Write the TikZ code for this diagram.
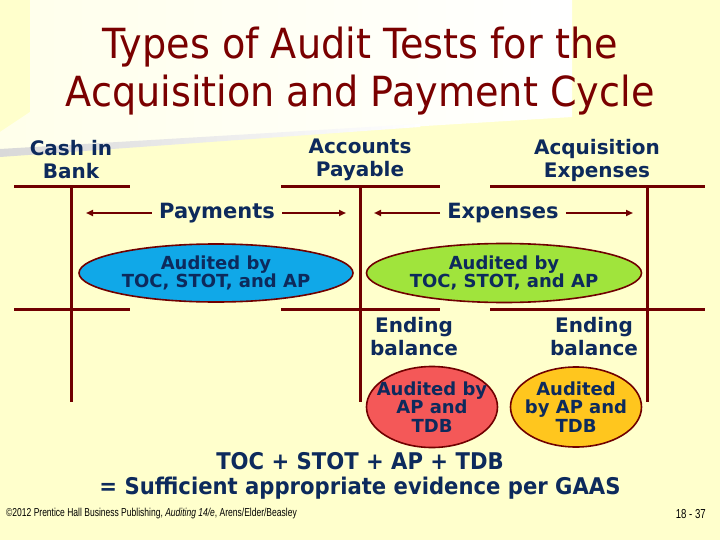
\documentclass[tikz,border=0pt]{standalone}
\usepackage{fontspec}
\setmainfont{DejaVu Sans}
\newfontfamily\titlefont{DejaVu Sans}[FakeStretch=0.92]
\newfontfamily\conclfont{DejaVu Sans}[FakeStretch=0.92]
\newfontfamily\footfont{Liberation Sans}[FakeStretch=0.74]
\usetikzlibrary{shapes.geometric,arrows.meta}
\definecolor{bgyel}{HTML}{FFFFCC}
\definecolor{navy}{HTML}{0D2A5C}
\definecolor{titlered}{HTML}{7A0000}
\definecolor{tline}{HTML}{700000}
\definecolor{ellblue}{HTML}{10A8E8}
\definecolor{ellgreen}{HTML}{A0E43C}
\definecolor{ellred}{HTML}{F45858}
\definecolor{ellyel}{HTML}{FFC61E}
\tikzset{
  tacct/.style={draw=tline, line width=3pt},
  lbl/.style={text=navy, font=\bfseries\fontsize{20}{23}\selectfont, align=center, inner sep=0pt},
  flowlbl/.style={text=navy, font=\bfseries\fontsize{21}{24}\selectfont, inner ysep=0pt, inner xsep=7pt},
  arr/.style={draw=tline, line width=1.8pt, -{Triangle[length=7pt,width=6pt]}},
  ell/.style={ellipse, draw=tline, line width=1.6pt, inner sep=0pt},
  etext/.style={text=navy, font=\bfseries\fontsize{18}{18.5}\selectfont, align=center, inner sep=0pt},
}
\begin{document}
\begin{tikzpicture}[x=1pt,y=-1pt]
\useasboundingbox (0,0) rectangle (720,540);
% background
\fill[bgyel] (0,0) rectangle (720,540);
\shade[left color=bgyel!40!white, right color=white] (30,0) -- (572,0) -- (572,117) -- (0,152) -- (0,132) -- (30,112) -- cycle;
\shade[left color=black!15, right color=white] (0,149) -- (420,124) -- (420,127) -- (0,157) -- cycle;

% title
\node[text=titlered, font=\titlefont\fontsize{41.5}{48}\selectfont, align=center, inner sep=0pt] (title) at (360,71)
  {Types of Audit Tests for the\\Acquisition and Payment Cycle};

% account names
\node[lbl] (cash) at (71,160) {Cash in\\Bank};
\node[lbl] (ap) at (360,160) {Accounts\\Payable};
\node[lbl] (acq) at (597,160) {Acquisition\\Expenses};

% T accounts
\draw[tacct] (14,187) -- (130,187);
\draw[tacct] (281,187) -- (440,187);
\draw[tacct] (490,187) -- (705,187);
\draw[tacct] (14,309) -- (130,309);
\draw[tacct] (281,309) -- (440,309);
\draw[tacct] (490,309) -- (705,309);
\draw[tacct] (71,187) -- (71,402);
\draw[tacct] (360,187) -- (360,402);
\draw[tacct] (647,187) -- (647,402);

% flows
\node[flowlbl] (pay) at (217,213) {Payments};
\node[flowlbl] (exp) at (503,213) {Expenses};
\coordinate (payL) at (86,213);
\coordinate (payR) at (346,213);
\coordinate (expL) at (374,213);
\coordinate (expR) at (633,213);
\draw[arr] (pay.west) -- (payL);
\draw[arr] (pay.east) -- (payR);
\draw[arr] (exp.west) -- (expL);
\draw[arr] (exp.east) -- (expR);

% ellipses
\node[ell, fill=ellblue, minimum width=274pt, minimum height=58pt] (e1) at (216,273) {};
\node[etext] (t1) at (e1.center) {Audited by\\TOC, STOT, and AP};
\node[ell, fill=ellgreen, minimum width=275pt, minimum height=59pt] (e2) at (504,273) {};
\node[etext] (t2) at (e2.center) {Audited by\\TOC, STOT, and AP};

% ending balances
\node[lbl] (eb1) at (414,337) {Ending\\balance};
\node[lbl] (eb2) at (594,337) {Ending\\balance};

\node[ell, fill=ellred, minimum width=131pt, minimum height=81pt] (e3) at (432,407) {};
\node[etext] (t3) at (e3.center) {Audited by\\AP and\\TDB};
\node[ell, fill=ellyel, minimum width=131pt, minimum height=80pt] (e4) at (576,407) {};
\node[etext] (t4) at (e4.center) {Audited\\by AP and\\TDB};

% conclusion
\node[text=navy, font=\conclfont\bfseries\fontsize{23}{25}\selectfont, align=center, inner sep=0pt] (concl) at (360,476)
  {TOC + STOT + AP + TDB\\= Sufficient appropriate evidence per GAAS};

% footer
\node[anchor=west, font=\footfont\fontsize{11.5}{13}\selectfont, inner sep=0pt] (foot) at (6,514)
  {©2012 Prentice Hall Business Publishing, \textit{Auditing 14/e}, Arens/Elder/Beasley};
\node[anchor=east, font=\footfont\fontsize{13}{15}\selectfont, inner sep=0pt] (pg) at (706,514) {18 - 37};
\end{tikzpicture}
\end{document}
